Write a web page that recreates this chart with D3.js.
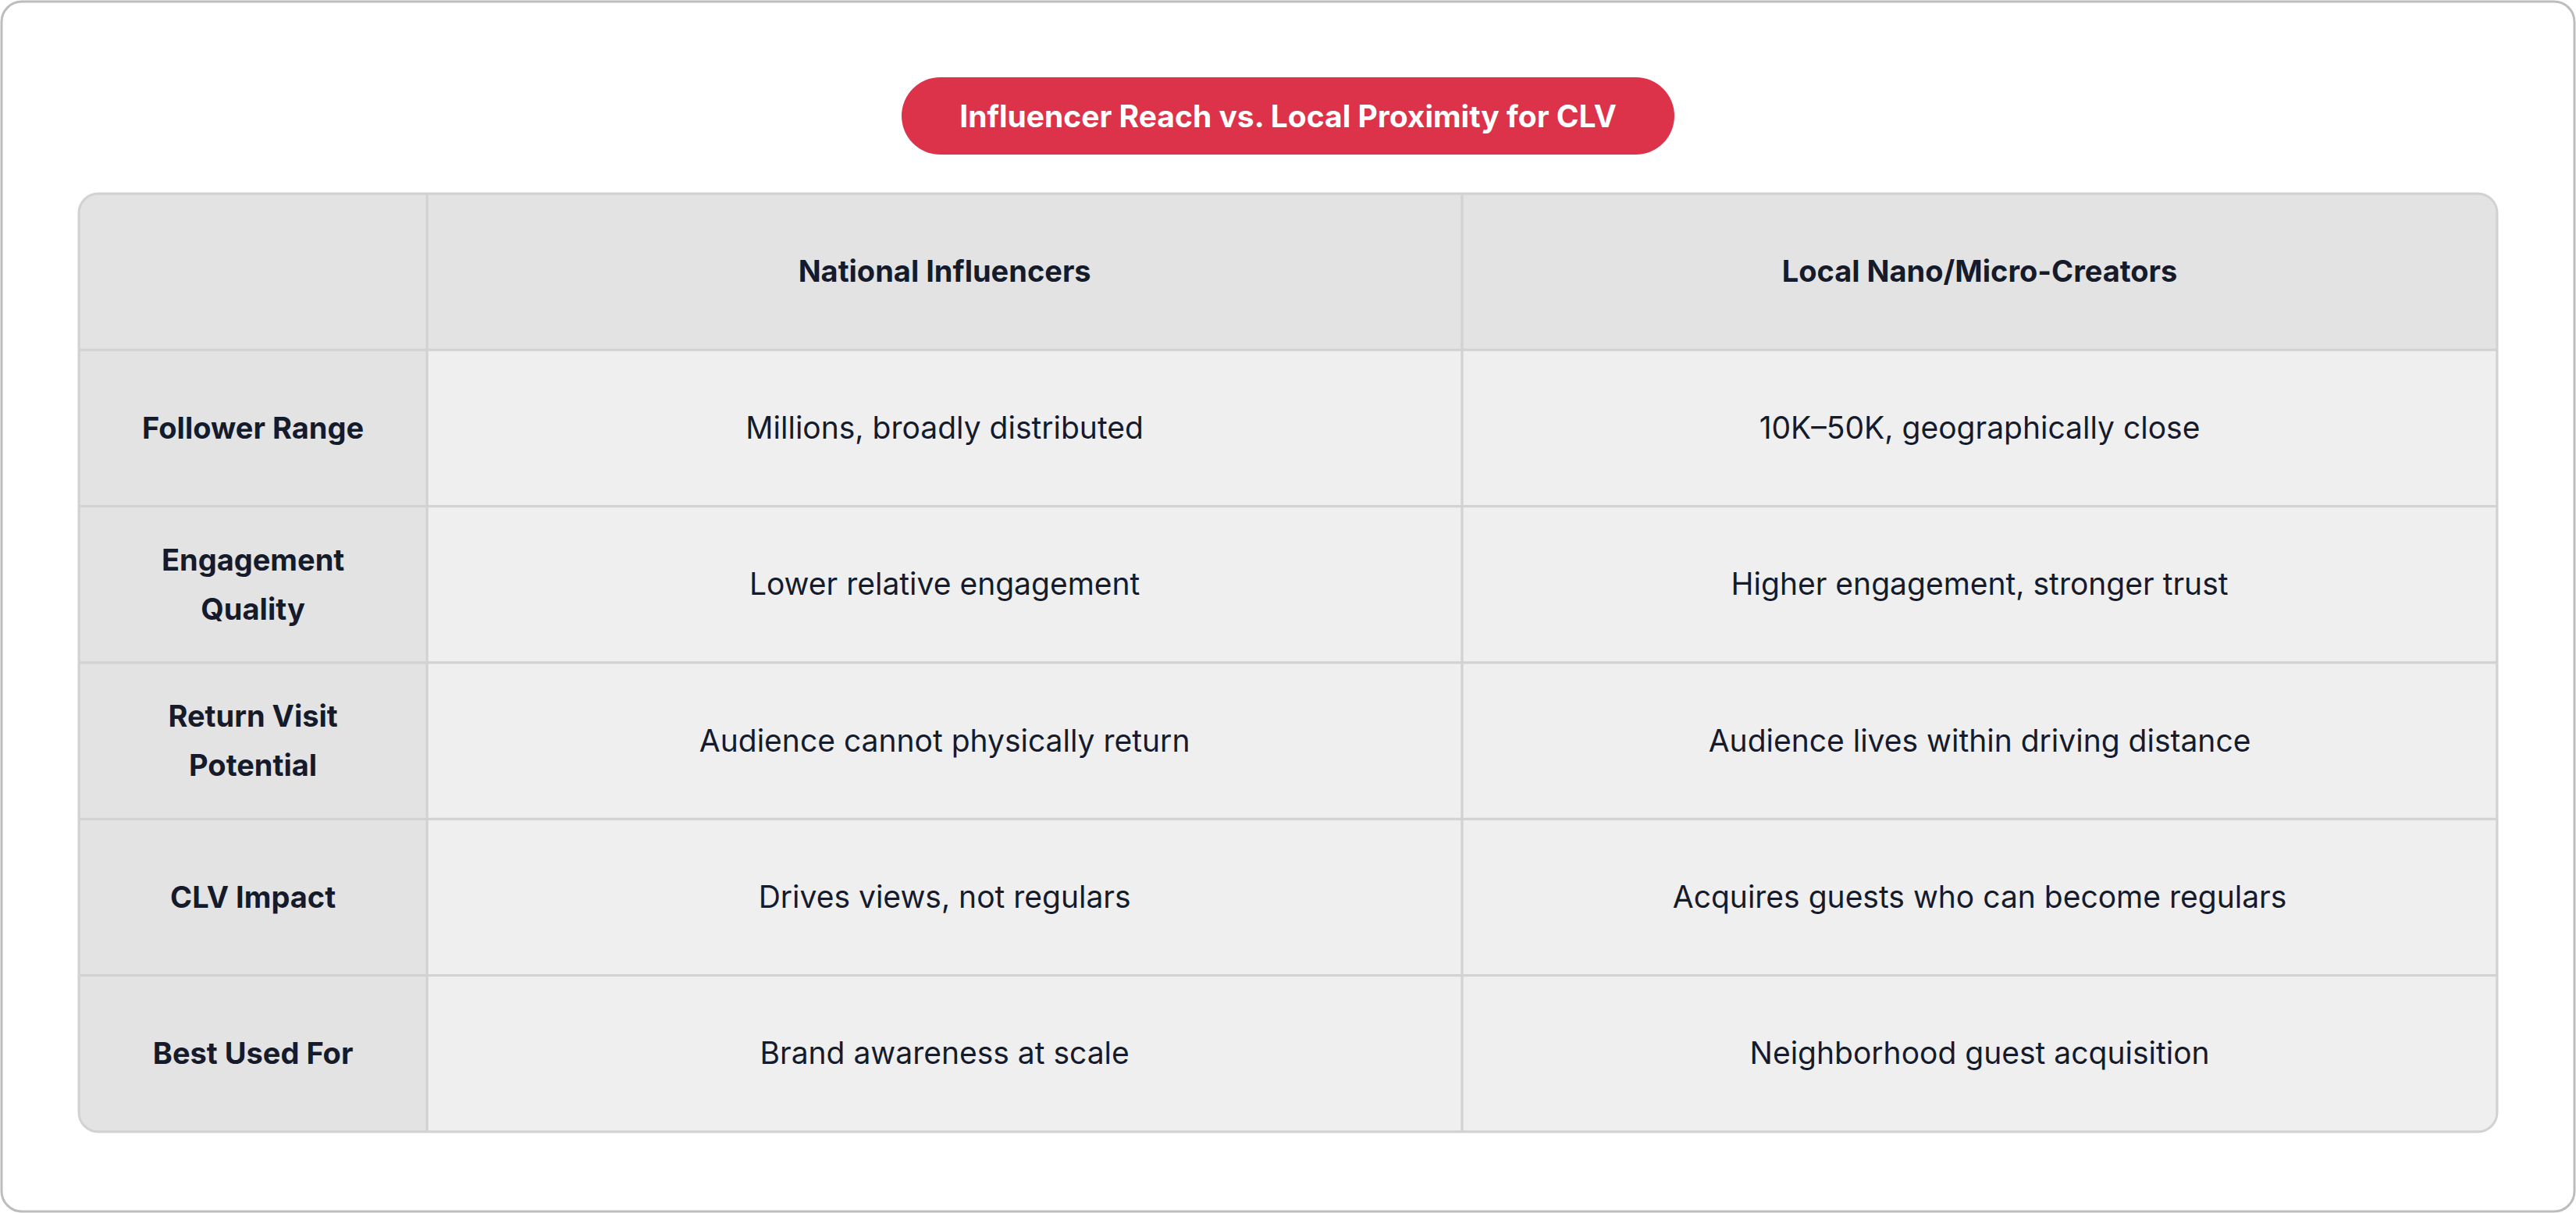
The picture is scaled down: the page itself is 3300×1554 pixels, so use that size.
<!DOCTYPE html>
<html>
<head>
<meta charset="utf-8">
<script src="https://cdn.jsdelivr.net/npm/d3@7"></script>
<style>
  body { margin: 0; background: #fff; }
  svg { display: block; font-family: Inter, "Noto Sans", sans-serif; }
</style>
</head>
<body>
<div id="chart"></div>
<script>
// data
const title = "Influencer Reach vs. Local Proximity for CLV";
const columns = ["", "National Influencers", "Local Nano/Micro-Creators"];
const rowLabels = [
  ["Follower Range"],
  ["Engagement", "Quality"],
  ["Return Visit", "Potential"],
  ["CLV Impact"],
  ["Best Used For"]
];
const national = [
  "Millions, broadly distributed",
  "Lower relative engagement",
  "Audience cannot physically return",
  "Drives views, not regulars",
  "Brand awareness at scale"
];
const local = [
  "10K\u201350K, geographically close",
  "Higher engagement, stronger trust",
  "Audience lives within driving distance",
  "Acquires guests who can become regulars",
  "Neighborhood guest acquisition"
];

// constants
const width = 3300, height = 1554;
const table = { x: 101, y: 248, w: 3098, h: 1202, r: 25 };
const colWeights = [212, 630, 630];
const textColor = "#161b2c";

const svg = d3.select("#chart").append("svg")
  .attr("width", width).attr("height", height);

// outer card
svg.append("rect")
  .attr("x", 2).attr("y", 2).attr("width", width - 4).attr("height", height - 4)
  .attr("rx", 26).attr("fill", "#fff").attr("stroke", "#bdbdc0").attr("stroke-width", 3);

// title pill
const pill = svg.append("g");
pill.append("rect")
  .attr("x", 1155).attr("y", 99).attr("width", 990).attr("height", 99)
  .attr("rx", 49.5).attr("fill", "#dc334a");
pill.append("text")
  .attr("x", 1650).attr("y", 149).attr("dy", "0.35em")
  .attr("text-anchor", "middle").attr("fill", "#fff")
  .attr("font-size", 39).attr("font-weight", 700)
  .text(title);

// scales
const cum = [0];
colWeights.forEach(w => cum.push(cum[cum.length - 1] + w));
const xScale = d3.scaleLinear()
  .domain([0, d3.sum(colWeights)])
  .range([table.x, table.x + table.w]);
const colX = i => xScale(cum[i]);
const colW = i => xScale(cum[i + 1]) - xScale(cum[i]);

const yScale = d3.scaleBand()
  .domain(d3.range(rowLabels.length + 1))
  .range([table.y, table.y + table.h]);

svg.append("clipPath").attr("id", "tclip")
  .append("rect")
  .attr("x", table.x).attr("y", table.y).attr("width", table.w).attr("height", table.h)
  .attr("rx", table.r);

const tg = svg.append("g").attr("clip-path", "url(#tclip)");

// cells
const cells = [];
for (let r = 0; r <= rowLabels.length; r++) {
  for (let c = 0; c < columns.length; c++) {
    let lines, bold;
    if (r === 0) { lines = columns[c] ? [columns[c]] : []; bold = true; }
    else if (c === 0) { lines = rowLabels[r - 1]; bold = true; }
    else { lines = [c === 1 ? national[r - 1] : local[r - 1]]; bold = false; }
    cells.push({ r, c, lines, bold, bg: (r === 0 || c === 0) ? "#e3e3e3" : "#efefef" });
  }
}

tg.selectAll("rect.cell")
  .data(cells)
  .join("rect")
  .attr("class", "cell")
  .attr("x", d => colX(d.c))
  .attr("y", d => yScale(d.r))
  .attr("width", d => colW(d.c))
  .attr("height", yScale.bandwidth())
  .attr("fill", d => d.bg)
  .attr("stroke", "#d2d2d2")
  .attr("stroke-width", 3);

const lh = 63;
tg.selectAll("text.cell")
  .data(cells)
  .join("text")
  .attr("class", "cell")
  .attr("text-anchor", "middle")
  .attr("fill", textColor)
  .attr("font-size", d => d.bold ? 38 : 39)
  .attr("font-weight", d => d.bold ? 700 : 400)
  .each(function (d) {
    const cx = colX(d.c) + colW(d.c) / 2;
    const cy = yScale(d.r) + yScale.bandwidth() / 2;
    const t = d3.select(this);
    d.lines.forEach((ln, i) => {
      t.append("tspan")
        .attr("x", cx)
        .attr("y", cy + (i - (d.lines.length - 1) / 2) * lh)
        .attr("dy", "0.35em")
        .text(ln);
    });
  });

// table border
svg.append("rect")
  .attr("x", table.x).attr("y", table.y).attr("width", table.w).attr("height", table.h)
  .attr("rx", table.r).attr("fill", "none").attr("stroke", "#d2d2d2").attr("stroke-width", 3);
</script>
</body>
</html>
